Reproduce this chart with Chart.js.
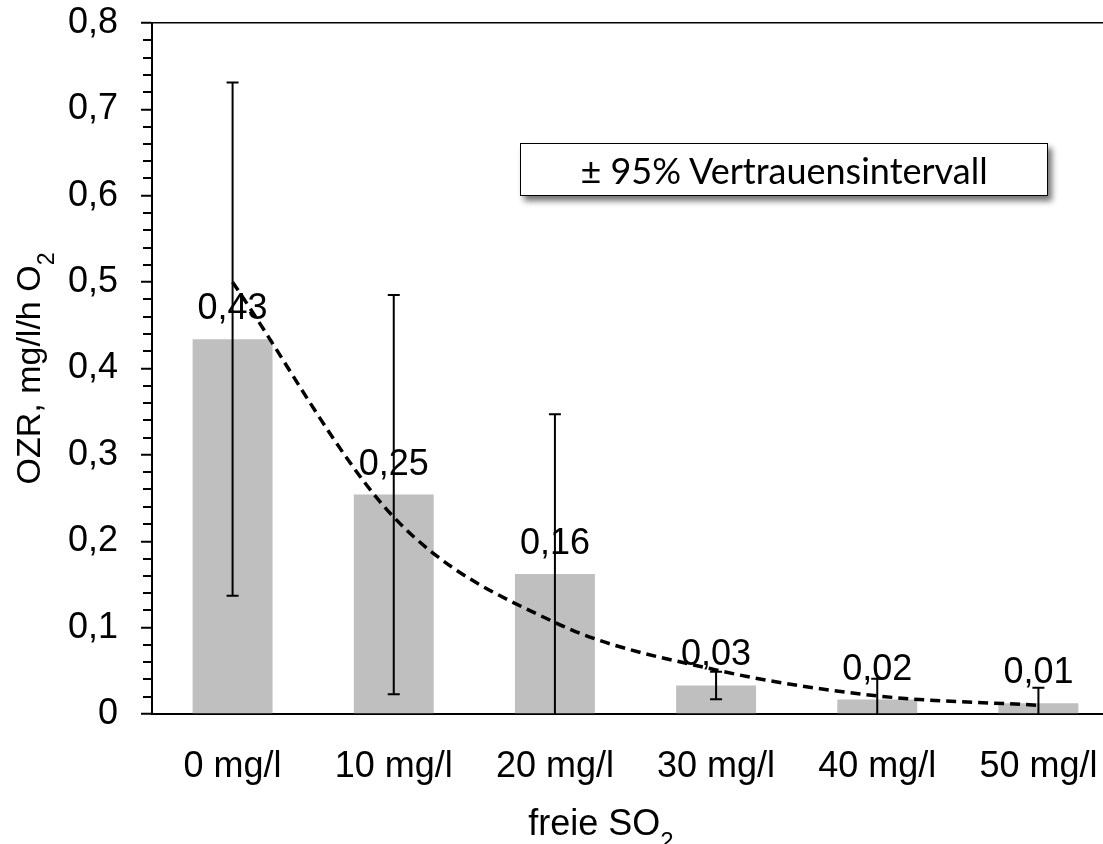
<!DOCTYPE html>
<html>
<head>
<meta charset="utf-8">
<script src="https://cdn.jsdelivr.net/npm/chart.js@4"></script>
<style>
  html, body { margin: 0; padding: 0; background: #fff; overflow: hidden; }
  #wrap { position: relative; width: 1125px; height: 844px; }
  #legendBox {
    position: absolute; left: 520px; top: 143px; width: 526px; height: 51px;
    border: 1.5px solid #000; background: #fff;
    box-shadow: 4px 5px 6px rgba(0, 0, 0, 0.55);
    font-family: Lato, 'Open Sans', sans-serif; font-size: 36px; color: #000;
    display: flex; align-items: center; justify-content: center;
  }
</style>
</head>
<body>
<div id="wrap">
  <canvas id="chart" width="1125" height="844"></canvas>
  <div id="legendBox">± 95% Vertrauensintervall</div>
</div>
<script>
const categories = ['0 mg/l', '10 mg/l', '20 mg/l', '30 mg/l', '40 mg/l', '50 mg/l'];
const ozr = [0.434, 0.254, 0.162, 0.033, 0.0167, 0.0124];
const ci95 = [0.297, 0.231, 0.185, 0.016, 0.024, 0.018];
const trend = [0.50, 0.228, 0.106, 0.051, 0.021, 0.0101];
const yTickLabels = ['0', '0,1', '0,2', '0,3', '0,4', '0,5', '0,6', '0,7', '0,8'];

const FONT = "'Liberation Sans', Arial, sans-serif";

// error bars, value labels, minor ticks and axis titles
const extras = {
  id: 'extras',
  afterDatasetsDraw(chart) {
    const ctx = chart.ctx;
    const y = chart.scales.y;
    const meta = chart.getDatasetMeta(0);
    ctx.save();
    ctx.strokeStyle = '#000';
    ctx.lineWidth = 2;
    meta.data.forEach((bar, i) => {
      const top = y.getPixelForValue(ozr[i] + ci95[i]);
      const lowVal = ozr[i] - ci95[i];
      const bot = y.getPixelForValue(Math.max(0, lowVal));
      ctx.beginPath();
      ctx.moveTo(bar.x, top);
      ctx.lineTo(bar.x, bot);
      ctx.moveTo(bar.x - 6, top);
      ctx.lineTo(bar.x + 6, top);
      if (lowVal > 0) {
        ctx.moveTo(bar.x - 6, bot);
        ctx.lineTo(bar.x + 6, bot);
      }
      ctx.stroke();
    });
    // value labels
    ctx.fillStyle = '#000';
    ctx.font = '36px ' + FONT;
    ctx.textAlign = 'center';
    ctx.textBaseline = 'alphabetic';
    meta.data.forEach((bar, i) => {
      const txt = ozr[i].toFixed(2).replace('.', ',');
      ctx.fillText(txt, bar.x, bar.y - 20);
    });
    ctx.restore();
  },
  afterDraw(chart) {
    const ctx = chart.ctx;
    const y = chart.scales.y;
    const area = chart.chartArea;
    ctx.save();
    // minor ticks
    ctx.strokeStyle = '#000';
    ctx.lineWidth = 2;
    for (let k = 1; k < 40; k++) {
      if (k % 5 === 0) continue;
      const py = Math.round(y.getPixelForValue(k * 0.02));
      ctx.beginPath();
      ctx.moveTo(area.left - 9, py);
      ctx.lineTo(area.left, py);
      ctx.stroke();
    }
    ctx.fillStyle = '#000';
    // y title, centred on the plot area
    ctx.save();
    ctx.translate(0, (area.top + area.bottom) / 2);
    ctx.rotate(-Math.PI / 2);
    ctx.font = '34px ' + FONT;
    const mainY = 'OZR, mg/l/h O';
    const wMainY = ctx.measureText(mainY).width;
    ctx.font = '23px ' + FONT;
    const wSubY = ctx.measureText('2').width;
    const startY = -(wMainY + wSubY) / 2;
    ctx.textBaseline = 'alphabetic';
    ctx.textAlign = 'left';
    ctx.font = '34px ' + FONT;
    ctx.fillText(mainY, startY, 40);
    ctx.font = '23px ' + FONT;
    ctx.fillText('2', startY + wMainY, 54);
    ctx.restore();
    // x title
    ctx.font = '36px ' + FONT;
    const mainX = 'freie SO';
    const wMainX = ctx.measureText(mainX).width;
    ctx.font = '24px ' + FONT;
    const wSubX = ctx.measureText('2').width;
    const startX = 601 - (wMainX + wSubX) / 2;
    ctx.textAlign = 'left';
    ctx.textBaseline = 'alphabetic';
    ctx.font = '36px ' + FONT;
    ctx.fillText(mainX, startX, 835);
    ctx.font = '24px ' + FONT;
    ctx.fillText('2', startX + wMainX, 849);
    ctx.restore();
  }
};

new Chart(document.getElementById('chart'), {
  data: {
    labels: categories,
    datasets: [
      {
        type: 'bar',
        label: 'OZR',
        data: ozr,
        backgroundColor: '#bfbfbf',
        borderWidth: 0,
        categoryPercentage: 1,
        barPercentage: 0.496,
        order: 1
      },
      {
        type: 'line',
        label: 'Trend',
        data: trend,
        borderColor: '#000',
        borderWidth: 3.5,
        borderDash: [10, 6],
        pointRadius: 0,
        fill: false,
        cubicInterpolationMode: 'monotone',
        order: 0
      }
    ]
  },
  options: {
    responsive: false,
    animation: false,
    devicePixelRatio: 1,
    layout: { padding: { top: 23, right: 6, left: 0, bottom: 0 } },
    plugins: {
      legend: { display: false },
      tooltip: { enabled: false }
    },
    scales: {
      x: {
        grid: { display: false },
        border: { display: true, color: '#000', width: 2 },
        ticks: {
          color: '#000',
          font: { family: FONT, size: 36 },
          padding: 23,
          maxRotation: 0,
          autoSkip: false
        },
        afterFit(scale) { scale.height = 130; }
      },
      y: {
        min: 0,
        max: 0.8,
        border: { display: true, color: '#000', width: 2 },
        grid: {
          drawOnChartArea: true,
          color: ctx => (ctx.tick && Math.abs(ctx.tick.value - 0.8) < 1e-6 ? '#000' : 'rgba(0,0,0,0)'),
          tickColor: '#000',
          tickLength: 11,
          lineWidth: 1.5,
          tickWidth: 2
        },
        ticks: {
          stepSize: 0.1,
          color: '#000',
          font: { family: FONT, size: 36 },
          padding: 23,
          callback: (v, i) => yTickLabels[i]
        },
        afterFit(scale) {
          scale.width = 152;
          scale.paddingTop = 0;
          scale.paddingBottom = 0;
        }
      }
    }
  },
  plugins: [extras]
});
</script>
</body>
</html>
